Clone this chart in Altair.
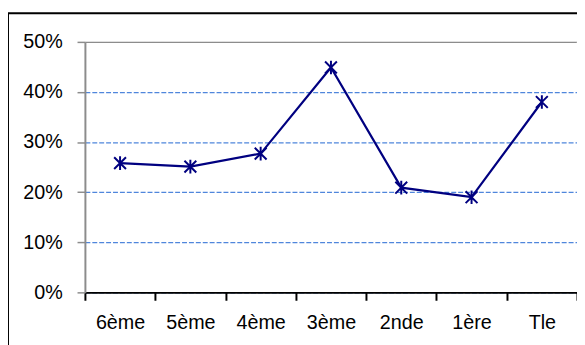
import altair as alt
import pandas as pd

categories = ["6ème", "5ème", "4ème", "3ème", "2nde", "1ère", "Tle"]
values = [0.258, 0.251, 0.277, 0.449, 0.209, 0.190, 0.380]
y_ticks = [0.0, 0.1, 0.2, 0.3, 0.4, 0.5]

df = pd.DataFrame({"niveau": categories, "part": values})
frame = pd.DataFrame({"k": [0]})

FONT = "Liberation Sans"
NAVY = "#000080"

x_enc = alt.X(
    "niveau:N",
    sort=categories,
    scale=alt.Scale(type="band", paddingInner=0, paddingOuter=0),
    axis=alt.Axis(
        title=None,
        labelAngle=0,
        tickBand="extent",
        domainColor="black",
        domainWidth=2,
        tickColor="black",
        tickWidth=2,
        tickSize=8,
        labelFontSize=20,
        labelFont=FONT,
        labelColor="black",
        labelPadding=13,
        grid=False,
    ),
)
y_enc = alt.Y(
    "part:Q",
    scale=alt.Scale(domain=[0, 0.5], nice=False, zero=True),
    axis=alt.Axis(
        title=None,
        values=y_ticks,
        format=".0%",
        domainColor="#8c8c8c",
        domainWidth=2,
        tickColor="#8c8c8c",
        tickWidth=1.5,
        tickSize=8,
        labelFontSize=20,
        labelFont=FONT,
        labelColor="black",
        labelPadding=15,
        grid=True,
        gridColor=alt.condition("datum.value >= 0.5", alt.value("#8c8c8c"), alt.value("#4f86dc")),
        gridDash=alt.condition("datum.value >= 0.5", alt.value([1, 0]), alt.value([5, 2])),
        gridWidth=1.3,
    ),
)

line = alt.Chart(df).mark_line(color=NAVY, strokeWidth=2.2).encode(x=x_enc, y=y_enc)
points = alt.Chart(df).mark_point(
    shape="M-1,-1L1,1M-1,1L1,-1M0,-1.15L0,1.15",
    filled=False,
    stroke=NAVY,
    strokeWidth=2,
    size=144,
    opacity=1,
).encode(x=alt.X("niveau:N", sort=categories), y="part:Q")

border = alt.Chart(frame).mark_rect(fill=None, stroke="black", strokeWidth=2, clip=False).encode(
    x=alt.value(-78), x2=alt.value(700), y=alt.value(-29), y2=alt.value(500)
)

chart = (
    alt.layer(line, points, border)
    .properties(
        width=499,
        height=254,
        autosize=alt.AutoSizeParams(type="none"),
        padding={"left": 78, "top": 32, "right": 0, "bottom": 51},
    )
    .configure_view(stroke=None)
    .configure(background="white")
)

chart.save("out.html", embed_options={"renderer": "svg", "actions": False})
